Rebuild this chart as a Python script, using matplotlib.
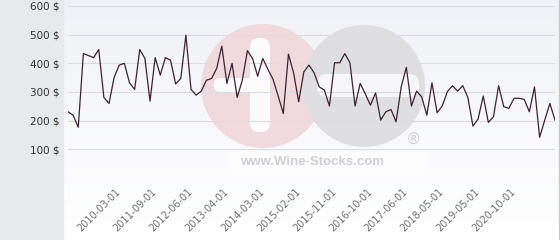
import numpy as np
import matplotlib.pyplot as plt
from matplotlib.patches import Circle, Rectangle, FancyBboxPatch
from matplotlib.colors import LinearSegmentedColormap
from matplotlib.transforms import ScaledTranslation

# price per bottle (one value per listed date)
prices = [231, 219, 177, 434, 427, 420, 448, 281, 260, 351,
          394, 400, 332, 309, 448, 417, 268, 420, 359, 420,
          411, 328, 347, 498, 309, 289, 303, 341, 347, 382,
          460, 330, 400, 281, 341, 444, 417, 355, 417, 379,
          344, 286, 225, 432, 367, 266, 370, 394, 367, 318,
          307, 251, 402, 402, 434, 402, 251, 330, 293, 254,
          297, 202, 231, 239, 196, 318, 386, 251, 303, 283,
          219, 332, 228, 251, 301, 322, 303, 322, 281, 181,
          206, 286, 194, 214, 322, 249, 243, 278, 278, 274,
          231, 318, 142, 202, 260, 202]

tick_labels = ['2010-03-01', '2011-09-01', '2012-06-01', '2013-04-01',
               '2014-03-01', '2015-02-01', '2015-11-01', '2016-10-01',
               '2017-06-01', '2018-05-01', '2019-05-01', '2020-10-01']
y_ticks = [0, 100, 200, 300, 400, 500, 600]

W, H = 560, 240
fig = plt.figure(figsize=(5.6, 2.4), dpi=100)
fig.patch.set_facecolor('white')

# background: grey side panel, light gradient, watermark
bg = fig.add_axes([0, 0, 1, 1])
grad = np.linspace(0, 1, 100).reshape(-1, 1)
cmap = LinearSegmentedColormap.from_list('g', ['#f1f2f7', '#ffffff'])
bg.imshow(grad, cmap=cmap, extent=(63, 559, H, 0), aspect='auto')
bg.add_patch(Rectangle((0, 0), 63, H, color='#e7eaed'))
bg.plot([559, 559], [0, H], color='#c9c9c9', lw=1)

bg.add_patch(Circle((263, 86), 62, fc='#f0dade', ec='none'))
bg.add_patch(Circle((364, 86), 61, fc='#dfdfe2', ec='none'))
bg.add_patch(FancyBboxPatch((252, 40), 16, 90, boxstyle='round,pad=2,rounding_size=9',
                            fc='#fbfbfc', ec='none'))
bg.add_patch(FancyBboxPatch((215, 79), 40, 12, boxstyle='round,pad=1,rounding_size=6',
                            fc='#fbfbfc', ec='none'))
bg.add_patch(FancyBboxPatch((318, 75), 100, 21, boxstyle='round,pad=1,rounding_size=10',
                            fc='#f7f7f9', ec='none'))
bg.add_patch(Rectangle((228, 152), 200, 25, fc='#fcfcfd', ec='none'))
bg.text(312, 162, 'www.Wine-Stocks.com', ha='center', va='center',
        fontsize=9.5, fontweight='bold', color='#d0d0d3', family='Liberation Sans')
bg.text(413, 139, '®', ha='center', va='center', fontsize=11,
        color='#d2d2d5', family='DejaVu Sans')
bg.set_xlim(0, W)
bg.set_ylim(H, 0)
bg.axis('off')

ax = fig.add_axes([68 / W, (H - 178) / H, 487 / W, 172 / H])
ax.set_facecolor('none')
x = np.arange(len(prices))
ax.plot(x, prices, color='#3b2430', lw=0.9, zorder=3)

ax.set_xlim(0, len(prices) - 1)
ax.set_ylim(0, 600)
ax.set_yticks(y_ticks)
ax.set_yticklabels(['' if v == 0 else f'{v} $' for v in y_ticks],
                   fontsize=7.5, color='#333333')
ax.yaxis.grid(True, color='#dedee2', lw=0.8)
ax.set_axisbelow(True)

tick_pos = list(range(10, len(prices), 7))[:len(tick_labels)]
ax.set_xticks(tick_pos)
ax.set_xticklabels(tick_labels, rotation=45, ha='right', va='center',
                   rotation_mode='anchor', fontsize=7, color='#707070')
shift = ScaledTranslation(4 / 100, 0, fig.dpi_scale_trans)
for lab in ax.get_xticklabels():
    lab.set_transform(lab.get_transform() + shift)

ax.tick_params(axis='both', length=0)
ax.tick_params(axis='y', pad=6)
ax.tick_params(axis='x', pad=9)
for s in ax.spines.values():
    s.set_visible(False)

fig.savefig('out.png', dpi=100)
